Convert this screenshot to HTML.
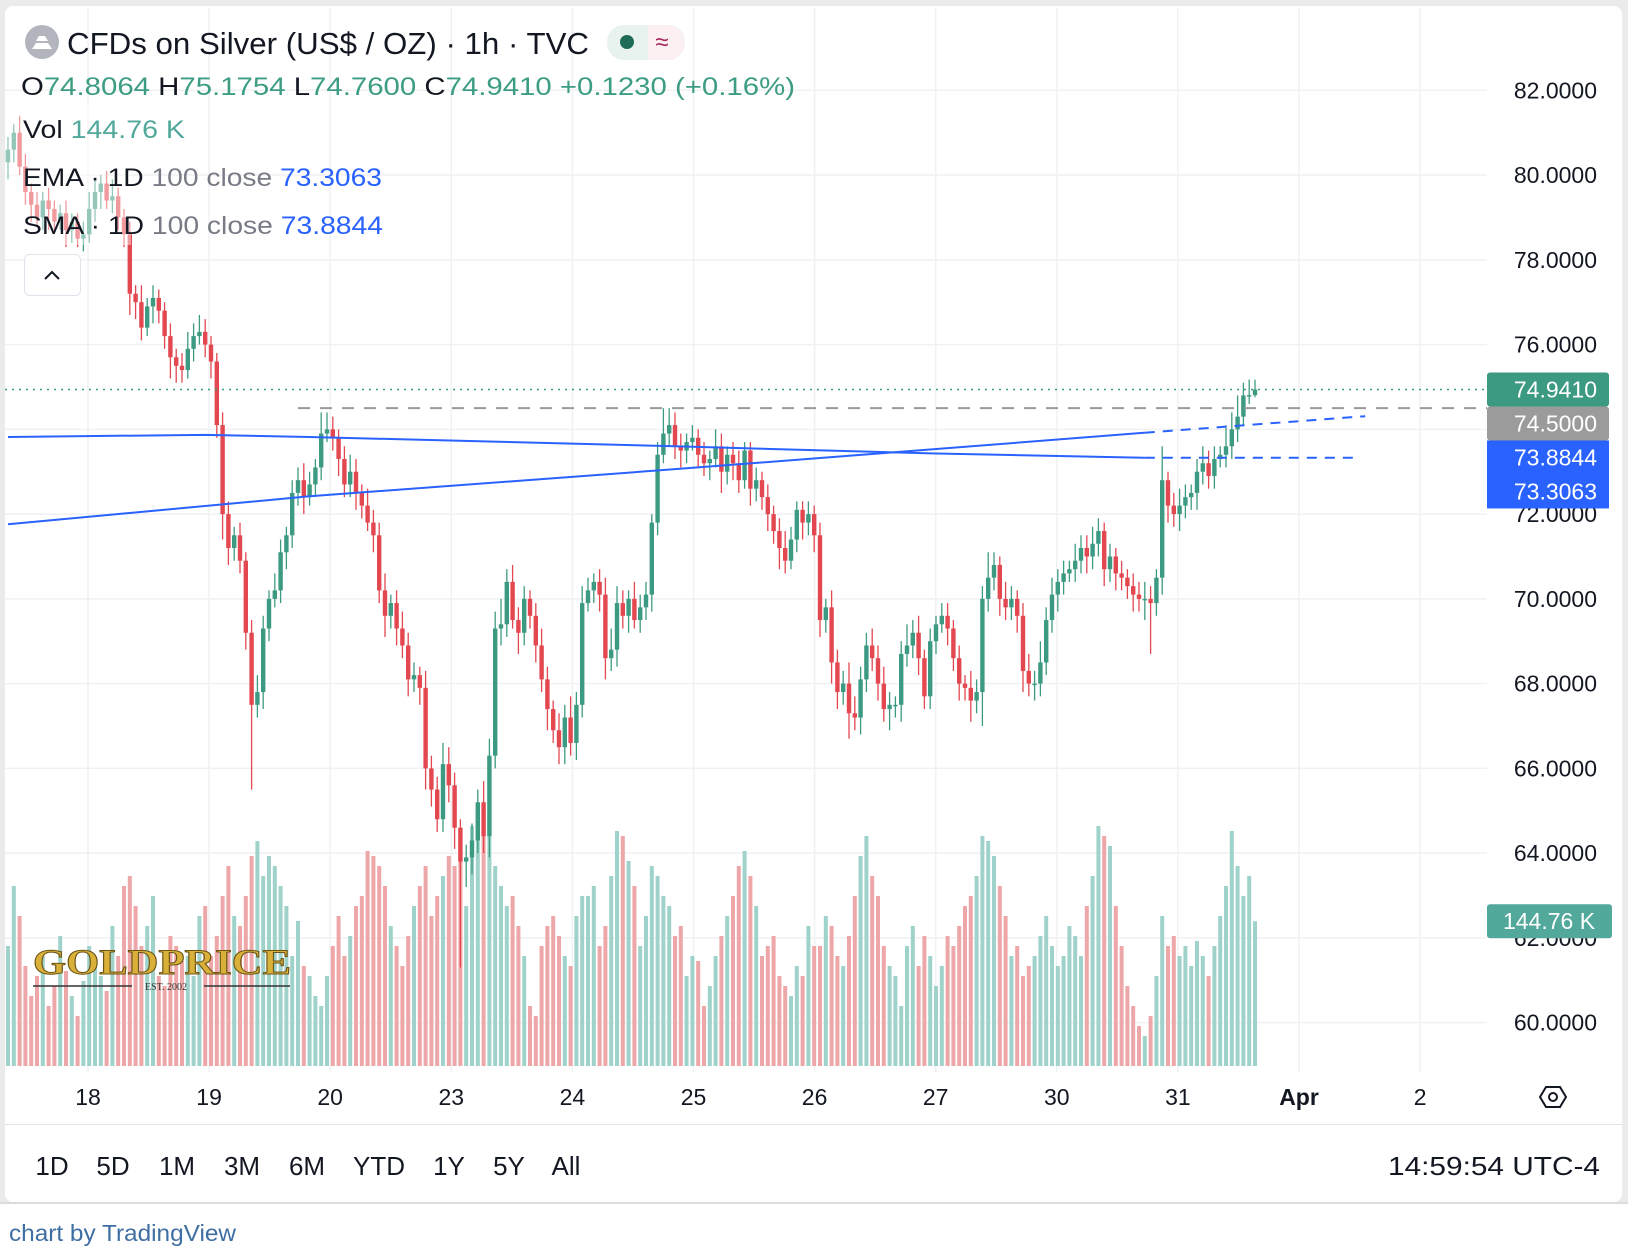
<!DOCTYPE html>
<html><head><meta charset="utf-8">
<style>
html,body{margin:0;padding:0;background:#fff;}
body{width:1628px;height:1260px;overflow:hidden;position:relative;font-family:"Liberation Sans",sans-serif;}
svg{position:absolute;left:0;top:0;}
</style></head>
<body>
<svg id="chart" width="1628" height="1260" viewBox="0 0 1628 1260" xmlns="http://www.w3.org/2000/svg">
  <rect x="0" y="0" width="1628" height="1260" fill="#ffffff"/>
  <rect x="0" y="0" width="1628" height="1204" fill="#ebebeb"/>
  <rect x="5" y="6" width="1617" height="1196" rx="8" fill="#ffffff"/>
  <g id="grid"></g>
  <g id="vol"></g>
  <g id="candles"></g>
  <rect x="6" y="105" width="125" height="140" fill="#ffffff" fill-opacity="0.45"/>
  <g id="lines"></g>
  <g id="axis"></g>
  <g id="xaxis"></g>

  <circle cx="42" cy="42" r="17" fill="#b2b5be"/>
  <path d="M32 49 L52 49 L48 43 L36 43 Z M36 41 L48 41 L45 36 L39 36 Z" fill="#ffffff"/>
  <text x="67" y="54" font-size="31" fill="#131722" textLength="522" lengthAdjust="spacingAndGlyphs">CFDs on Silver (US$ / OZ) · 1h · TVC</text>
  <rect x="607" y="25" width="78" height="35" rx="17" fill="#e8f2ef"/>
  <path d="M667 25 a17 17 0 0 1 0 35 h-19 v-35 z" fill="#fbeff2"/>
  <circle cx="627" cy="42" r="7" fill="#1e6b58"/>
  <text x="662" y="50" font-size="24" fill="#a3265a" text-anchor="middle">≈</text>

  <text x="21" y="95" font-size="25" textLength="774" lengthAdjust="spacingAndGlyphs"><tspan fill="#131722">O</tspan><tspan fill="#3d9c84">74.8064 </tspan><tspan fill="#131722">H</tspan><tspan fill="#3d9c84">75.1754 </tspan><tspan fill="#131722">L</tspan><tspan fill="#3d9c84">74.7600 </tspan><tspan fill="#131722">C</tspan><tspan fill="#3d9c84">74.9410 +0.1230 (+0.16%)</tspan></text>
  <text x="23" y="138" font-size="25" textLength="162" lengthAdjust="spacingAndGlyphs"><tspan fill="#131722">Vol </tspan><tspan fill="#52a89b"> 144.76 K</tspan></text>
  <text x="23" y="186" font-size="25" textLength="359" lengthAdjust="spacingAndGlyphs"><tspan fill="#131722">EMA · 1D </tspan><tspan fill="#787b86">100 close </tspan><tspan fill="#2962ff"> 73.3063</tspan></text>
  <text x="23" y="234" font-size="25" textLength="360" lengthAdjust="spacingAndGlyphs"><tspan fill="#131722">SMA · 1D </tspan><tspan fill="#787b86">100 close </tspan><tspan fill="#2962ff"> 73.8844</tspan></text>
  <rect x="24.5" y="254.5" width="56" height="41" rx="5" fill="#ffffff" stroke="#e0e3eb"/>
  <path d="M45 279 L52 272 L59 279" fill="none" stroke="#131722" stroke-width="2"/>

  <line x1="5" y1="1124.5" x2="1622" y2="1124.5" stroke="#e0e3eb"/>
  <g font-size="26" fill="#131722" text-anchor="middle">
    <text x="52" y="1175">1D</text>
    <text x="113" y="1175">5D</text>
    <text x="177" y="1175">1M</text>
    <text x="242" y="1175">3M</text>
    <text x="307" y="1175">6M</text>
    <text x="379" y="1175">YTD</text>
    <text x="449" y="1175">1Y</text>
    <text x="509" y="1175">5Y</text>
    <text x="566" y="1175">All</text>
  </g>
  <text x="1600" y="1175" font-size="26" fill="#131722" text-anchor="end" textLength="212" lengthAdjust="spacingAndGlyphs">14:59:54 UTC-4</text>
  <line x1="0" y1="1203" x2="1628" y2="1203" stroke="#dcdcdc" stroke-width="2"/>
  <text x="9" y="1241" font-size="23" fill="#3f6ea3" textLength="227" lengthAdjust="spacingAndGlyphs">chart by TradingView</text>

  <path d="M1540 1097 L1546 1087 L1560 1087 L1566 1097 L1560 1107 L1546 1107 Z" fill="none" stroke="#131722" stroke-width="2"/>
  <circle cx="1553" cy="1097" r="4" fill="none" stroke="#131722" stroke-width="2"/>

  <g>
    <text x="33" y="974" font-size="36" font-weight="bold" fill="#d9b13a" stroke="#6b5414" stroke-width="1" textLength="258" lengthAdjust="spacingAndGlyphs" font-family="Liberation Serif, serif">GOLDPRICE</text>
    <line x1="33" y1="986" x2="132" y2="986" stroke="#333" stroke-width="1.5"/>
    <line x1="204" y1="986" x2="290" y2="986" stroke="#333" stroke-width="1.5"/>
    <text x="166" y="990" font-size="10" fill="#333" text-anchor="middle" font-family="Liberation Serif, serif">EST. 2002</text>
  </g>
</svg>
<script>
const closes=[80.6,81.0,80.2,79.6,79.3,79.0,79.4,79.2,78.9,79.1,
78.7,78.9,78.5,78.6,79.2,79.6,79.8,79.4,79.5,79.0,
78.6,77.2,77.0,76.4,76.9,77.1,76.8,76.2,75.7,75.5,
75.4,75.9,76.2,76.3,76.0,75.6,74.1,72.0,71.2,71.5,
70.9,69.2,67.5,67.8,69.3,70.0,70.2,71.1,71.5,72.5,
72.8,72.4,72.7,73.1,73.9,74.0,73.8,73.3,72.7,73.0,
72.5,72.2,71.8,71.5,70.2,69.6,69.9,69.3,68.9,68.1,
68.2,67.9,66.0,65.5,64.8,66.1,65.6,64.6,63.8,63.9,
64.3,65.2,64.4,66.3,69.3,69.4,70.4,69.5,69.2,70.0,
69.6,68.9,68.1,67.4,66.9,66.5,67.2,66.6,67.5,69.9,
70.2,70.4,70.1,68.6,68.8,69.9,69.6,70.0,69.5,69.8,
70.1,71.8,73.4,73.9,74.1,73.6,73.5,73.7,73.8,73.4,
73.2,73.3,73.6,73.0,73.4,73.2,72.8,73.5,72.6,72.8,
72.4,72.0,71.6,71.2,70.9,71.4,72.1,71.8,72.0,71.5,
69.5,69.8,68.5,67.8,68.0,67.3,67.2,68.1,68.9,68.6,
68.0,67.4,67.5,67.5,68.7,68.9,69.2,68.6,67.7,69.0,
69.4,69.6,69.3,68.6,68.0,67.9,67.6,67.8,70.0,70.5,
70.8,70.0,69.8,70.0,69.6,68.3,68.0,68.0,68.5,69.5,
70.1,70.4,70.6,70.7,70.9,71.2,71.0,71.3,71.6,70.7,
71.0,70.6,70.5,70.3,70.1,70.0,70.0,69.9,70.5,72.8,
72.2,72.0,72.2,72.4,72.5,73.0,73.2,72.9,73.3,73.4,
73.6,74.0,74.3,74.8,74.8064,74.941];
const firstOpen=80.3;
const hiWick=[3,2,4,3,2,3,2,3,2,2, 3,2,2,3,4,3,2,3,4,2, 2,3,2,4,2,3,2,2,3,2, 3,4,3,4,3,2,2,3,3,2,
3,2,3,4,3,2,4,3,2,3, 3,4,3,2,5,4,3,2,3,4, 3,2,4,3,3,4,2,3,4,3, 3,2,4,3,3,5,4,3,2,3,
4,3,5,4,4,6,3,4,3,3, 2,3,4,3,2,4,3,5,3,4, 3,2,3,4,5,4,3,2,4,3, 3,2,3,6,4,3,3,2,3,2,
3,2,4,3,2,3,3,2,2,3, 2,3,2,3,4,3,2,2,3,2, 3,2,4,3,3,5,4,3,3,4, 3,4,3,2,3,5,3,4,2,3,
2,3,3,2,3,2,4,3,3,6, 3,2,4,3,2,3,4,3,5,3, 4,3,3,2,4,3,3,4,3,2, 3,2,3,2,3,3,4,3,2,8,
2,3,4,3,2,3,4,3,3,2, 5,4,5,3,3.7,2.3];
const loWick=[4,3,2,3,4,2,3,5,3,2, 4,3,2,3,2,3,4,2,3,3, 3,5,4,3,2,4,3,3,5,4, 3,2,3,2,3,4,3,6,4,3,
3,4,20,3,4,3,2,3,4,3, 3,4,2,3,3,2,3,4,3,3, 4,3,2,4,3,5,3,4,3,4, 3,4,5,4,3,3,4,5,25,6,
4,3,4,5,3,4,3,2,5,3, 3,4,3,5,3,4,4,3,4,3, 2,3,4,5,3,4,3,4,2,3, 3,4,3,2,3,3,4,3,2,3,
3,4,2,5,3,4,3,2,4,3, 3,4,3,5,3,2,3,4,3,4, 4,3,5,4,3,6,3,4,3,3, 4,3,5,3,4,3,3,4,3,3,
3,2,4,3,4,3,5,3,8,3, 3,4,3,3,4,5,3,4,3,3, 3,4,3,2,3,3,4,3,3,4, 3,4,3,3,4,3,5,12,3,4,
4,3,4,3,3,4,3,3,3,2, 3,3,3,2,2,0.5];
const volumes=[120,180,150,100,70,90,110,60,80,130, 95,70,50,85,120,105,90,75,140,110,
180,190,160,120,140,170,90,80,130,120, 105,110,90,150,160,110,130,170,200,150,
140,170,210,225,190,210,200,180,160,110, 145,100,90,70,60,90,120,150,110,130,
160,170,215,210,200,180,140,120,100,130, 160,180,200,150,170,190,210,200,230,160,
240,255,230,250,200,180,160,170,140,110, 60,50,120,140,150,130,110,100,150,170,
170,180,120,140,190,235,230,205,180,120, 150,200,190,170,160,130,140,90,110,105,
60,80,110,130,150,170,200,215,190,160, 110,120,130,90,80,70,100,90,140,120,
120,150,140,110,100,130,170,210,230,190, 170,120,100,90,60,120,140,100,130,110,
80,100,130,120,140,160,170,190,230,225, 210,180,150,110,120,90,100,110,130,150,
120,100,110,140,130,110,160,190,240,230, 220,160,120,80,60,40,30,50,90,150,
120,130,110,120,100,125,110,90,120,150, 180,235,200,170,190,144.76];
const priceTicks=[82,80,78,76,74,72,70,68,66,64,62,60];
const dateLabels=['18','19','20','23','24','25','26','27','30','31','Apr','2'];
const smaBars=[0,34,52,115,160,196];
const smaVals=[73.82,73.87,73.82,73.6,73.43,73.33];
const smaProjBars=[196,232];
const smaProjVals=[73.33,73.33];
const emaBars=[0,52,115,152,196];
const emaVals=[71.76,72.42,73.06,73.45,73.92];
const emaProjBars=[196,234];
const emaProjVals=[73.92,74.31];
const lastPrice=74.941, refPrice=74.5;
const tagLabels=['74.9410','74.5000','73.8844','73.3063'];

const NS='http://www.w3.org/2000/svg';
const PL=5, PR=1487, PTOP=8, PBOT=1080, VOLBASE=1066;
const yP=p=>90.3+(82-p)*42.38;
const xB=i=>8+i*5.8;
const xD=j=>88+j*121.1;
const yV=v=>VOLBASE-v*1.0;
const GREEN='#3d9a82', RED='#e3474f', VG='#9fd2ca', VR='#eea7a8';
function mk(tag,attrs,parent){const e=document.createElementNS(NS,tag);for(const k in attrs)e.setAttribute(k,attrs[k]);parent.appendChild(e);return e;}

const grid=document.getElementById('grid');
priceTicks.forEach(p=>{
  const l=mk('line',{x1:PL,x2:PR,y1:yP(p),y2:yP(p),stroke:'#f0f1f3','stroke-width':1.5},grid);
  
  
});
dateLabels.forEach((d,j)=>{
  const l=mk('line',{x1:xD(j),x2:xD(j),y1:PTOP,y2:PBOT-8,stroke:'#f0f1f3','stroke-width':1.5},grid);
  
  
});

const vol=document.getElementById('vol'), cg=document.getElementById('candles');
let prev=firstOpen;
closes.forEach((c,i)=>{
  const o=prev; prev=c;
  const up=c>=o;
  const hi=Math.max(o,c)+hiWick[i]/10, lo=Math.min(o,c)-loWick[i]/10;
  const x=xB(i);
  const vb=mk('rect',{x:x-2,y:yV(volumes[i]),width:4,height:VOLBASE-yV(volumes[i]),fill:up?VG:VR},vol);
  
  
  const col=up?GREEN:RED;
  const w=mk('line',{x1:x,x2:x,y1:yP(hi),y2:yP(lo),stroke:col,'stroke-width':1.3},cg);
  
  
  const top=yP(Math.max(o,c)), bh=Math.max(1.5,yP(Math.min(o,c))-top);
  const b=mk('rect',{x:x-2.2,y:top,width:4.4,height:bh,fill:col},cg);
  
  
});

const lines=document.getElementById('lines');
function poly(bars,vals,dash,name){
  const pts=bars.map((b,k)=>xB(b)+','+yP(vals[k])).join(' ');
  const attrs={points:pts,fill:'none',stroke:'#2962ff','stroke-width':2};
  if(dash)attrs['stroke-dasharray']='10 8';
  const p=mk('polyline',attrs,lines);
  
  
}
poly(smaBars,smaVals,false,'sma-line');
poly(smaProjBars,smaProjVals,true,'sma-projection');
poly(emaBars,emaVals,false,'ema-line');
poly(emaProjBars,emaProjVals,true,'ema-projection');
const lp=mk('line',{x1:PL,x2:PR,y1:yP(lastPrice),y2:yP(lastPrice),stroke:'#3d9a82','stroke-width':1.5,'stroke-dasharray':'2 5'},lines);


const rp=mk('line',{x1:298,x2:PR,y1:yP(refPrice),y2:yP(refPrice),stroke:'#9a9a9a','stroke-width':2,'stroke-dasharray':'12 10'},lines);



const axis=document.getElementById('axis');
priceTicks.forEach(p=>{
  const t=mk('text',{x:1597,y:yP(p)+8,'font-size':23,fill:'#131722','text-anchor':'end'},axis);
  t.textContent=p.toFixed(4);
  
  
});
// labels stack downward from the last-price tag, avoiding overlap
const tagColors=['#3d9a82','#9b9b9b','#2962ff','#2962ff'];
const tagH=34;
let tagY=yP(lastPrice);
tagLabels.forEach((label,k)=>{
  const cy=tagY+k*tagH;
  const r=mk('rect',{x:1487,y:cy-tagH/2,width:122,height:tagH+(k===2?1:0),rx:k>=2?0:3,fill:tagColors[k]},axis);
  
  
  const t=mk('text',{x:1597,y:cy+8,'font-size':23,fill:'#ffffff','text-anchor':'end'},axis);
  t.textContent=label;
  
  
});
const vtag=mk('rect',{x:1487,y:yV(volumes[volumes.length-1])-17,width:125,height:34,rx:3,fill:'#52a89b'},axis);


const vt=mk('text',{x:1549,y:yV(volumes[volumes.length-1])+8,'font-size':23,fill:'#ffffff','text-anchor':'middle'},axis);
vt.textContent='144.76 K';



const xa=document.getElementById('xaxis');
dateLabels.forEach((d,j)=>{
  const t=mk('text',{x:xD(j),y:1105,'font-size':23,fill:'#131722','text-anchor':'middle','font-weight':d==='Apr'?'bold':'normal'},xa);
  t.textContent=d;
  
  
});
</script>
</body></html>
